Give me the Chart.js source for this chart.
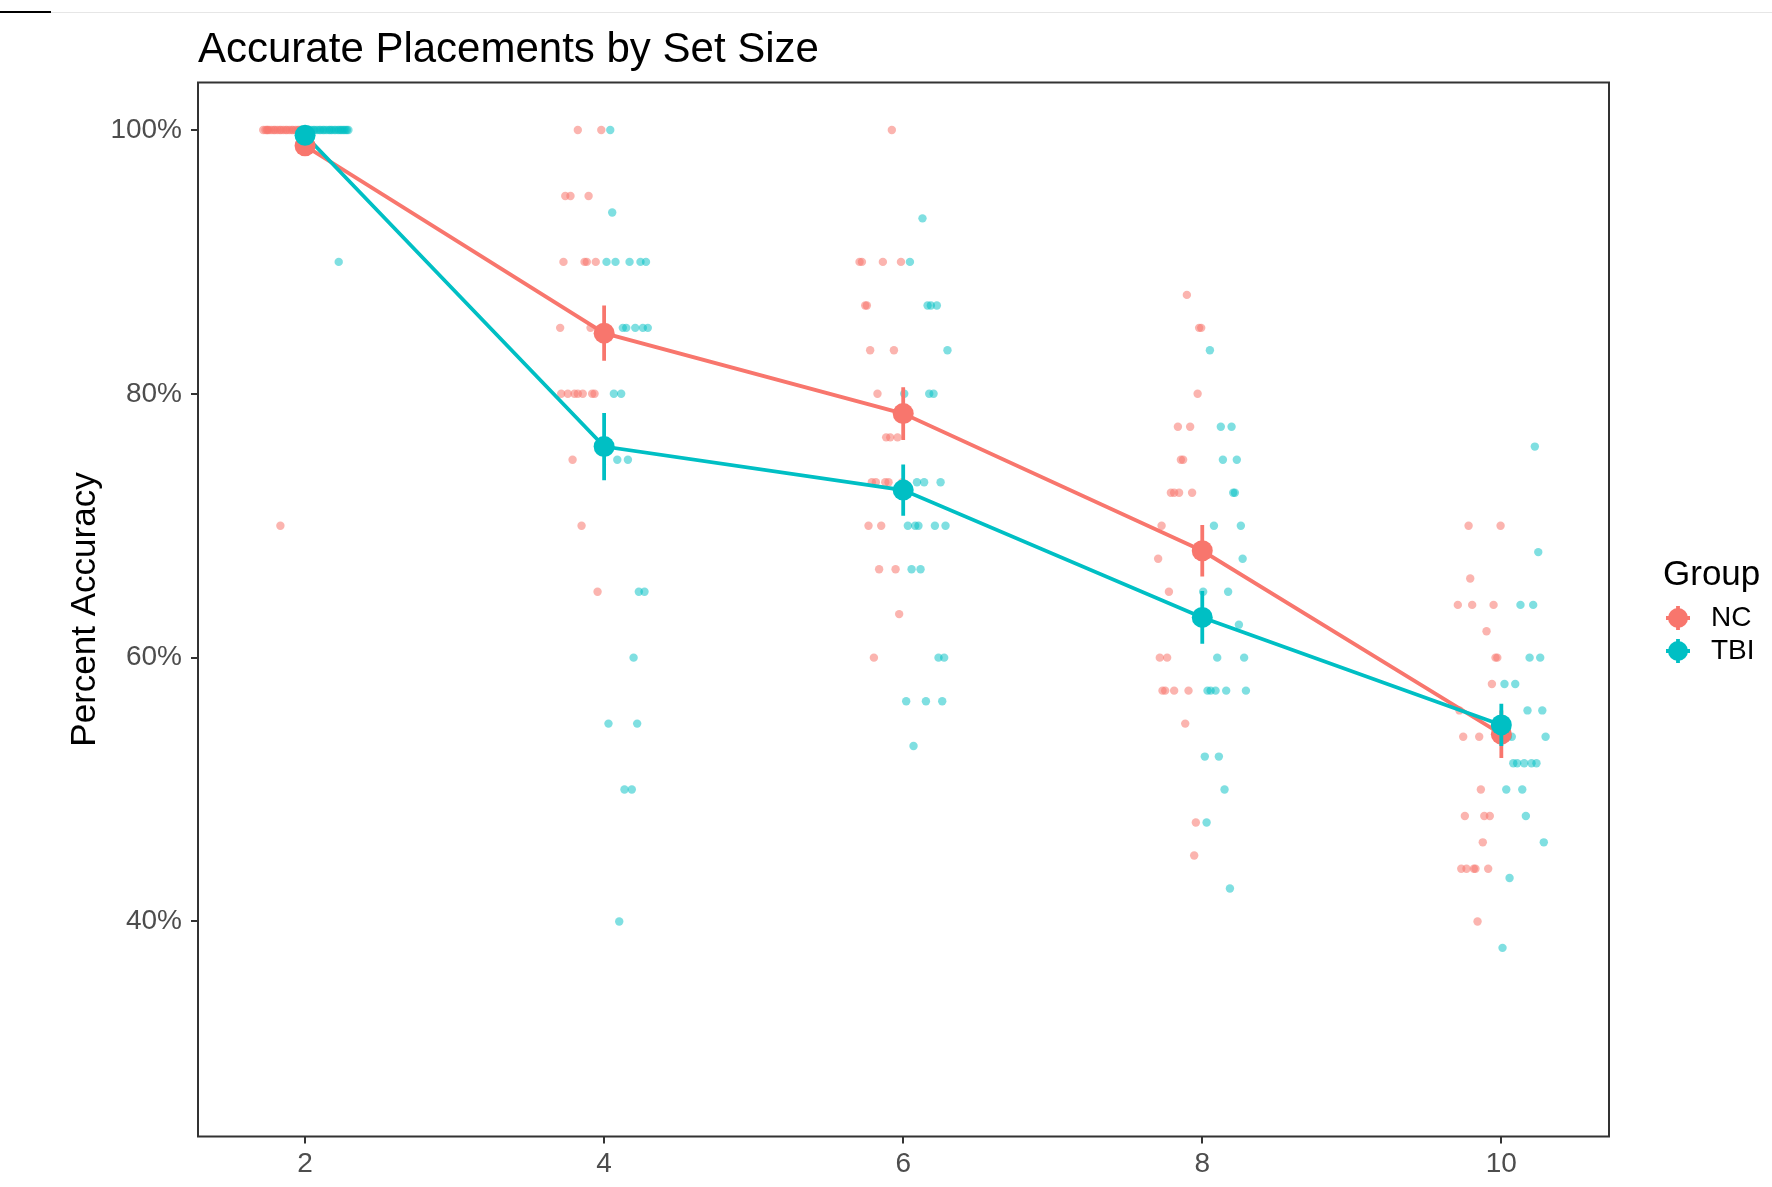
<!DOCTYPE html>
<html>
<head>
<meta charset="utf-8">
<script src="https://cdn.jsdelivr.net/npm/chart.js@4.4.1/dist/chart.umd.min.js"></script>
<style>
  html, body { margin: 0; padding: 0; background: #fff; }
  #chart { display: block; }
</style>
</head>
<body>
<canvas id="chart" width="1772" height="1187" style="width:1772px;height:1187px;"></canvas>
<script>
// ── Data ──────────────────────────────────────────────────────────────────────
const setSizes = [2, 4, 6, 8, 10];
const yTicks   = [40, 60, 80, 100];

const ncMean  = [98.8, 84.6, 78.5, 68.1, 54.2];
const ncErr   = [0.7, 2.1, 2.0, 1.95, 1.8];
const tbiMean = [99.6, 76.0, 72.7, 63.05, 54.9];
const tbiErr  = [0.4, 2.55, 1.95, 2.0, 1.6];

// jittered participant scores [x, percent]
const ncPoints = [
  [1.72,100],[1.735,100],[1.745,100],[1.75,100],[1.76,100],[1.775,100],[1.79,100],[1.80,100],
  [1.815,100],[1.83,100],[1.84,100],[1.855,100],[1.87,100],[1.88,100],[1.895,100],[1.91,100],
  [1.92,100],[1.935,100],[1.95,100],[1.96,100],[1.97,100],[1.98,100],[1.99,100],[1.835,70],

  [3.824,100],[3.981,100],[3.740,95],[3.775,95],[3.896,95],
  [3.728,90],[3.869,90],[3.884,90],[3.944,90],[3.706,85],[3.909,85],
  [3.713,80],[3.757,80],[3.802,80],[3.824,80],[3.857,80],[3.92,80],[3.936,80],
  [3.789,75],[3.849,70],[3.956,65],

  [5.924,100],[5.708,90],[5.724,90],[5.864,90],[5.985,90],[5.746,86.7],[5.757,86.7],
  [5.779,83.3],[5.938,83.3],[5.828,80],[5.886,76.7],[5.913,76.7],[5.962,76.7],
  [5.79,73.3],[5.817,73.3],[5.88,73.3],[5.902,73.3],[5.995,73.3],[5.768,70],[5.853,70],
  [5.839,66.7],[5.949,66.7],[5.973,63.3],[5.804,60],

  [7.897,87.5],[7.979,85],[7.993,85],[7.969,80],[7.837,77.5],[7.919,77.5],[7.857,75],[7.872,75],
  [7.79,72.5],[7.812,72.5],[7.845,72.5],[7.932,72.5],[7.728,70],[7.705,67.5],[7.777,65],
  [7.716,60],[7.765,60],[7.734,57.5],[7.752,57.5],[7.812,57.5],[7.908,57.5],
  [7.886,55],[7.957,47.5],[7.946,45],

  [9.781,70],[9.995,70],[9.792,66],[9.709,64],[9.805,64],[9.948,64],[9.901,62],
  [9.961,60],[9.973,60],[9.937,58],[9.72,56],[9.745,54],[9.852,54],[9.863,50],
  [9.756,48],[9.886,48],[9.923,48],[9.876,46],[9.732,44],[9.767,44],[9.816,44],
  [9.827,44],[9.912,44],[9.841,40],
];

const tbiPoints = [
  [2.01,100],[2.025,100],[2.04,100],[2.055,100],[2.065,100],[2.08,100],[2.095,100],[2.105,100],
  [2.12,100],[2.13,100],[2.145,100],[2.16,100],[2.17,100],[2.18,100],[2.195,100],[2.205,100],
  [2.22,100],[2.23,100],[2.24,100],[2.25,100],[2.26,100],[2.27,100],[2.28,100],[2.29,100],
  [2.225,90],

  [4.041,100],[4.054,93.75],[4.016,90],[4.076,90],[4.17,90],[4.243,90],[4.28,90],
  [4.009,85],[4.125,85],[4.148,85],[4.208,85],[4.259,85],[4.292,85],[4.065,80],[4.114,80],
  [4.088,75],[4.159,75],[4.232,65],[4.270,65],[4.197,60],[4.029,55],[4.221,55],
  [4.136,50],[4.185,50],[4.101,40],

  [6.129,93.3],[6.045,90],[6.163,86.7],[6.185,86.7],[6.225,86.7],[6.296,83.3],
  [6.007,80],[6.174,80],[6.203,80],[6.092,73.3],[6.14,73.3],[6.25,73.3],
  [6.031,70],[6.08,70],[6.102,70],[6.212,70],[6.283,70],[6.056,66.7],[6.116,66.7],
  [6.236,60],[6.274,60],[6.02,56.7],[6.152,56.7],[6.261,56.7],[6.069,53.3],

  [8.051,83.3],[8.124,77.5],[8.196,77.5],[8.138,75],[8.231,75],[8.207,72.5],[8.218,72.5],
  [8.078,70],[8.258,70],[8.27,67.5],[8.006,65],[8.173,65],[8.245,62.5],[8.1,60],[8.28,60],
  [8.035,57.5],[8.056,57.5],[8.089,57.5],[8.16,57.5],[8.292,57.5],[8.017,52.5],[8.111,52.5],
  [8.149,50],[8.029,47.5],[8.185,42.5],

  [10.224,76],[10.247,68],[10.128,64],[10.213,64],[10.189,60],[10.26,60],[10.021,58],
  [10.093,58],[10.175,56],[10.274,56],[10.044,54],[10.07,54],[10.296,54],[10.08,52],
  [10.106,52],[10.153,52],[10.202,52],[10.235,52],[10.033,50],[10.14,50],[10.164,48],
  [10.284,46],[10.055,43.3],[10.008,38],
];

// ── Styling ───────────────────────────────────────────────────────────────────
const FONT   = "'Liberation Sans', Arial, Helvetica, sans-serif";
const NC_COL = '#F8766D';
const TB_COL = '#00BFC4';
const LW     = 3.8;

// ── Helpers ───────────────────────────────────────────────────────────────────
const toXY   = pts => pts.map(([x, y]) => ({ x, y }));
const meanXY = means => setSizes.map((x, i) => ({ x, y: means[i] }));
function errXY(means, errs) {
  const out = [];
  setSizes.forEach((x, i) => {
    out.push({ x, y: means[i] - errs[i] }, { x, y: means[i] + errs[i] }, { x, y: null });
  });
  return out;
}

// panel border, title, legend
const decor = {
  id: 'decor',
  beforeDraw(chart) {
    const c = chart.ctx;
    c.save();
    c.fillStyle = '#e6e6e6';
    c.fillRect(51, 12, 1772 - 51, 1);
    c.fillStyle = '#000';
    c.fillRect(0, 11, 51, 2);
    c.restore();
  },
  afterDraw(chart) {
    const c = chart.ctx, a = chart.chartArea;
    c.save();
    c.strokeStyle = '#333';
    c.lineWidth = 2;
    c.strokeRect(a.left, a.top, a.right - a.left, a.bottom - a.top);

    c.fillStyle = '#000';
    c.textBaseline = 'alphabetic';
    c.textAlign = 'left';
    c.font = `42px ${FONT}`;
    c.fillText('Accurate Placements by Set Size', a.left, 62);

    c.font = `35px ${FONT}`;
    c.fillText('Group', 1663, 585);

    [['NC', NC_COL, 618], ['TBI', TB_COL, 651]].forEach(([lab, col, y]) => {
      const kx = 1678;
      c.strokeStyle = col;
      c.lineWidth = LW;
      c.beginPath();
      c.moveTo(kx - 12, y); c.lineTo(kx + 12, y);
      c.moveTo(kx, y - 12); c.lineTo(kx, y + 12);
      c.stroke();
      c.fillStyle = col;
      c.beginPath();
      c.arc(kx, y, 10, 0, Math.PI * 2);
      c.fill();
      c.fillStyle = '#000';
      c.font = `28px ${FONT}`;
      c.textBaseline = 'middle';
      c.fillText(lab, 1711, y);
    });
    c.restore();
  }
};

// ── Chart ─────────────────────────────────────────────────────────────────────
new Chart(document.getElementById('chart').getContext('2d'), {
  type: 'scatter',
  data: {
    datasets: [
      { label: 'TBI mean', data: meanXY(tbiMean), pointRadius: 10.5, pointBackgroundColor: TB_COL, pointBorderWidth: 0, showLine: false, order: 1 },
      { label: 'TBI err',  data: errXY(tbiMean, tbiErr), showLine: true, spanGaps: false, borderColor: TB_COL, borderWidth: LW, pointRadius: 0, order: 2 },
      { label: 'NC mean',  data: meanXY(ncMean), pointRadius: 10.5, pointBackgroundColor: NC_COL, pointBorderWidth: 0, showLine: false, order: 3 },
      { label: 'NC err',   data: errXY(ncMean, ncErr), showLine: true, spanGaps: false, borderColor: NC_COL, borderWidth: LW, pointRadius: 0, order: 4 },
      { label: 'TBI line', data: meanXY(tbiMean), showLine: true, borderColor: TB_COL, borderWidth: LW, pointRadius: 0, order: 5 },
      { label: 'NC line',  data: meanXY(ncMean), showLine: true, borderColor: NC_COL, borderWidth: LW, pointRadius: 0, order: 6 },
      { label: 'TBI pts',  data: toXY(tbiPoints), pointRadius: 4.2, pointBackgroundColor: 'rgba(0,191,196,0.5)', pointBorderWidth: 0, order: 7 },
      { label: 'NC pts',   data: toXY(ncPoints), pointRadius: 4.2, pointBackgroundColor: 'rgba(248,118,109,0.55)', pointBorderWidth: 0, order: 8 },
    ]
  },
  options: {
    responsive: false,
    animation: false,
    events: [],
    layout: { padding: { left: 0, right: 163, top: 82.5, bottom: 0 } },
    plugins: { legend: { display: false }, tooltip: { enabled: false }, title: { display: false } },
    scales: {
      x: {
        type: 'linear', min: 1.284, max: 10.72,
        afterBuildTicks: s => { s.ticks = setSizes.map(v => ({ value: v })); },
        afterFit: s => { s.height = 50.5; },
        grid: { drawOnChartArea: false, drawTicks: true, tickLength: 7, color: '#333', lineWidth: 2 },
        border: { display: false },
        ticks: { color: '#4d4d4d', font: { family: FONT, size: 28 }, padding: 4, maxRotation: 0, autoSkip: false },
      },
      y: {
        type: 'linear', min: 23.7, max: 103.6,
        afterBuildTicks: s => { s.ticks = yTicks.map(v => ({ value: v })); },
        afterFit: s => { s.width = 198; },
        grid: { drawOnChartArea: false, drawTicks: true, tickLength: 7, color: '#333', lineWidth: 2 },
        border: { display: false },
        ticks: { color: '#4d4d4d', font: { family: FONT, size: 28 }, padding: 9, callback: v => v + '%' },
        title: { display: true, text: 'Percent Accuracy', color: '#000', font: { family: FONT, size: 35 }, padding: { top: 64, bottom: 0 } },
      }
    }
  },
  plugins: [decor]
});
</script>
</body>
</html>
